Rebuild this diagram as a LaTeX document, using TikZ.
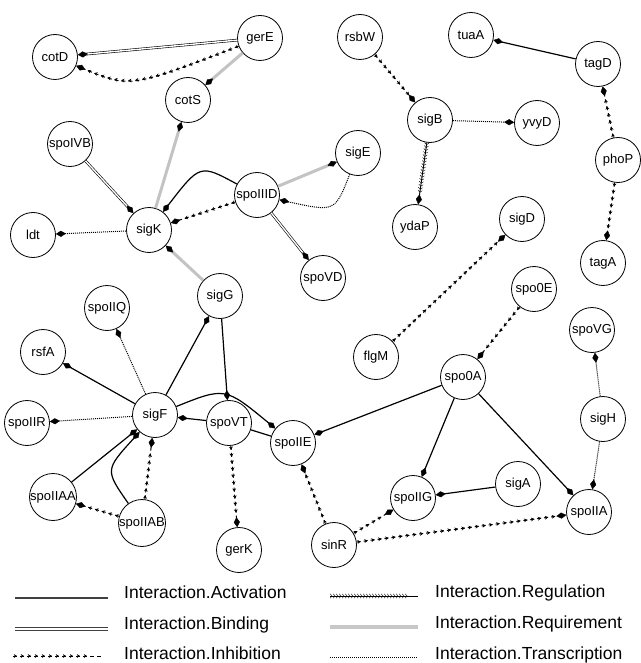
\documentclass[tikz,border=0pt]{standalone}
\usepackage{fontspec}
\setmainfont{Liberation Sans}
\usetikzlibrary{arrows.meta,decorations.markings}
\tikzset{
 gnode/.style={circle, draw, line width=0.8pt, minimum size=45pt, inner sep=0pt, fill=white, font=\fontsize{13}{13}\selectfont},
 dtip/.style={-{Diamond[length=10pt,width=6pt,color=black,line width=0.4pt]}},
 activ/.style={line width=1.2pt, dtip},
 bind/.style={line width=0.6pt, double=white, double distance=1.4pt, dtip},
 req/.style={line width=3pt, draw={rgb,255:red,195;green,195;blue,195}, dtip},
 transc/.style={line width=1pt, dash pattern=on 1pt off 1pt, dtip},
 inhib/.style={line width=1pt, dash pattern=on 4pt off 3pt, dtip,
   postaction={decorate, decoration={markings, mark=between positions 4pt and -9pt step 7pt with {\arrow{Stealth[length=3.2pt,width=3.8pt]}}}}},
 regul/.style={line width=0.9pt, dtip,
   postaction={decorate, decoration={markings, mark=between positions 2pt and -11pt step 3pt with {\draw[-, solid, line width=0.4pt] (-1.8pt,2.2pt) -- (0,0) -- (-1.8pt,-2.2pt);}}}},
 legtext/.style={anchor=base west, inner sep=0pt, font=\fontsize{17.5}{17.5}\selectfont},
 legbind/.style={line width=0.9pt, draw=black!75},
}
\begin{document}
\begin{tikzpicture}[x=1pt,y=-1pt]
\useasboundingbox (0,0) rectangle (640,663);
% nodes
\node[gnode] (cotD) at (55,57) {cotD};
\node[gnode] (gerE) at (260,38) {gerE};
\node[gnode] (cotS) at (188,100) {cotS};
\node[gnode] (spoIVB) at (70,144) {spoIVB};
\node[gnode] (spoIIID) at (257,195) {spoIIID};
\node[gnode] (sigK) at (149,230) {sigK};
\node[gnode] (ldt) at (33,235) {ldt};
\node[gnode] (sigE) at (358,153) {sigE};
\node[gnode] (spoVD) at (323,278) {spoVD};
\node[gnode] (sigG) at (220,296) {sigG};
\node[gnode] (spoIIQ) at (107,308) {spoIIQ};
\node[gnode] (rsfA) at (43,352) {rsfA};
\node[gnode] (sigF) at (155,415) {sigF};
\node[gnode] (spoIIR) at (27,423) {spoIIR};
\node[gnode] (spoVT) at (229,423) {spoVT};
\node[gnode] (spoIIE) at (293,443) {spoIIE};
\node[gnode] (spoIIAA) at (53,497) {spoIIAA};
\node[gnode] (spoIIAB) at (142,523) {spoIIAB};
\node[gnode] (gerK) at (239,550) {gerK};
\node[gnode] (sinR) at (334,545) {sinR};
\node[gnode] (rsbW) at (360,37) {rsbW};
\node[gnode] (tuaA) at (471,35) {tuaA};
\node[gnode] (tagD) at (598,64) {tagD};
\node[gnode] (sigB) at (430,120) {sigB};
\node[gnode] (yvyD) at (537,123) {yvyD};
\node[gnode] (phoP) at (618,160) {phoP};
\node[gnode] (ydaP) at (415,227) {ydaP};
\node[gnode] (sigD) at (522,219) {sigD};
\node[gnode] (tagA) at (603,263) {tagA};
\node[gnode] (spo0E) at (534,289) {spo0E};
\node[gnode] (flgM) at (376,357) {flgM};
\node[gnode] (spo0A) at (463,377) {spo0A};
\node[gnode] (spoVG) at (592,330) {spoVG};
\node[gnode] (sigH) at (603,419) {sigH};
\node[gnode] (sigA) at (518,484) {sigA};
\node[gnode] (spoIIG) at (413,498) {spoIIG};
\node[gnode] (spoIIA) at (589,512) {spoIIA};
% edges
\draw[bind] (gerE) -- (cotD);
\draw[inhib] (gerE) .. controls (130,88) .. (cotD);
\draw[req] (gerE) -- (cotS);
\draw[req] (sigK) -- (cotS);
\draw[bind] (spoIVB) -- (sigK);
\draw[activ] (spoIIID) .. controls (200,164) .. (sigK);
\draw[inhib] (spoIIID) -- (sigK);
\draw[req] (spoIIID) -- (sigE);
\draw[transc] (sigE) .. controls (335,212) .. (spoIIID);
\draw[bind] (spoIIID) -- (spoVD);
\draw[transc] (sigK) -- (ldt);
\draw[req] (sigG) -- (sigK);
\draw[activ] (sigF) -- (sigG);
\draw[activ] (sigG) -- (spoVT);
\draw[transc] (sigF) -- (spoIIQ);
\draw[activ] (sigF) -- (rsfA);
\draw[transc] (sigF) -- (spoIIR);
\draw[activ] (spoIIAA) -- (sigF);
\draw[activ] (spoIIAB) .. controls (105,470) .. (sigF);
\draw[inhib] (spoIIAB) -- (sigF);
\draw[inhib] (spoIIAB) -- (spoIIAA);
\draw[activ] (spoVT) -- (sigF);
\draw[activ] (sigF) .. controls (225,387) .. (spoIIE);
\draw[activ, -] (spoVT) -- (spoIIE);
\draw[inhib] (spoVT) -- (gerK);
\draw[activ] (spo0A) -- (spoIIE);
\draw[inhib] (sinR) -- (spoIIE);
\draw[inhib] (spo0E) -- (spo0A);
\draw[activ] (spo0A) -- (spoIIG);
\draw[activ] (spo0A) -- (spoIIA);
\draw[activ] (sigA) -- (spoIIG);
\draw[inhib] (sinR) -- (spoIIG);
\draw[inhib] (sinR) -- (spoIIA);
\draw[transc] (sigH) -- (spoIIA);
\draw[transc] (sigH) -- (spoVG);
\draw[inhib] (flgM) -- (sigD);
\draw[inhib] (rsbW) -- (sigB);
\draw[transc] (sigB) -- (yvyD);
\draw[regul] (sigB) -- (ydaP);
\draw[activ] (tagD) -- (tuaA);
\draw[inhib] (phoP) -- (tagD);
\draw[inhib] (phoP) -- (tagA);
% legend
\coordinate (legA1) at (15,598); \coordinate (legA2) at (108,598);
\coordinate (legBa1) at (15,627.5); \coordinate (legBa2) at (108,627.5);
\coordinate (legBb1) at (15,630.5); \coordinate (legBb2) at (108,630.5);
\coordinate (legC1) at (13,656); \coordinate (legC2) at (102,656);
\coordinate (legD1) at (330,596); \coordinate (legD2) at (418,596);
\coordinate (legE1) at (330,627); \coordinate (legE2) at (418,627);
\coordinate (legF1) at (330,657); \coordinate (legF2) at (418,657);
\draw[line width=1.6pt, draw=black!75] (legA1) -- (legA2);
\draw[legbind] (legBa1) -- (legBa2);
\draw[legbind] (legBb1) -- (legBb2);
\draw[inhib, -] (legC1) -- (legC2);
\draw[regul, -] (legD1) -- (legD2);
\draw[line width=4pt, draw={rgb,255:red,200;green,200;blue,200}] (legE1) -- (legE2);
\draw[line width=1pt, dash pattern=on 1pt off 1pt] (legF1) -- (legF2);
\node[legtext] (la) at (124,598) {Interaction.Activation};
\node[legtext] (lb) at (124,629) {Interaction.Binding};
\node[legtext] (lc) at (124,659) {Interaction.Inhibition};
\node[legtext] (ld) at (435,597) {Interaction.Regulation};
\node[legtext] (le) at (435,628) {Interaction.Requirement};
\node[legtext] (lf) at (435,659) {Interaction.Transcription};
\end{tikzpicture}
\end{document}
